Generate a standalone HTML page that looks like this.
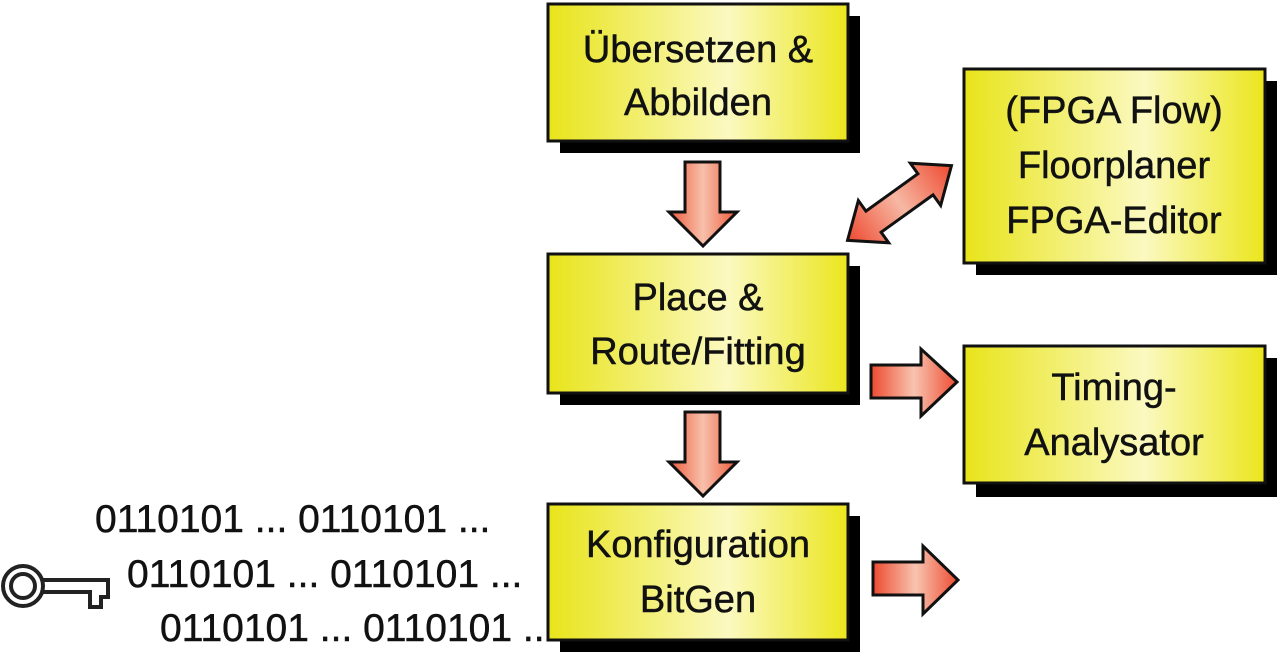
<!DOCTYPE html>
<html><head><meta charset="utf-8"><style>
html,body{margin:0;padding:0;background:#fff;}
svg{display:block;}
text{font-family:"Liberation Sans",Arial,sans-serif;fill:#111;stroke:#111;stroke-width:0.5;}
</style></head><body>
<svg width="1280" height="663" viewBox="0 0 1280 663" xmlns="http://www.w3.org/2000/svg">
<defs>
<linearGradient id="yg" x1="0" x2="1" y1="0" y2="0">
<stop offset="0" stop-color="#e8e41a"/><stop offset="0.6" stop-color="#fbf9c0"/><stop offset="1" stop-color="#ebe61c"/>
</linearGradient>
<linearGradient id="rv" x1="0" x2="1" y1="0" y2="0">
<stop offset="0" stop-color="#ee5a3c"/><stop offset="0.5" stop-color="#f7c0aa"/><stop offset="1" stop-color="#ee5a3c"/>
</linearGradient>
<linearGradient id="rh" x1="0" x2="1" y1="0" y2="0">
<stop offset="0" stop-color="#ee4a30"/><stop offset="0.5" stop-color="#f8c4b0"/><stop offset="1" stop-color="#ee4a30"/>
</linearGradient>
<linearGradient id="rd" x1="0" x2="1" y1="0" y2="0">
<stop offset="0" stop-color="#ee4a30"/><stop offset="0.5" stop-color="#f6b8a4"/><stop offset="1" stop-color="#ee4a30"/>
</linearGradient>
</defs>
<g stroke="#111" stroke-width="3">
<rect x="560" y="16" width="300" height="137" fill="#000" stroke="none"/>
<rect x="560" y="266" width="300" height="139" fill="#000" stroke="none"/>
<rect x="560" y="516" width="300" height="136" fill="#000" stroke="none"/>
<rect x="976" y="81" width="301" height="194" fill="#000" stroke="none"/>
<rect x="976" y="358" width="301" height="139" fill="#000" stroke="none"/>
<rect x="548" y="4" width="300" height="137" fill="url(#yg)"/>
<rect x="548" y="254" width="300" height="139" fill="url(#yg)"/>
<rect x="548" y="504" width="300" height="136" fill="url(#yg)"/>
<rect x="964" y="69" width="301" height="194" fill="url(#yg)"/>
<rect x="964" y="346" width="301" height="137" fill="url(#yg)"/>
<polygon points="685,162 720,162 720,212 737,212 703,246 669,212 685,212" fill="url(#rv)"/>
<polygon points="685,412 720,412 720,462 737,462 703,496 669,462 685,462" fill="url(#rv)"/>
<polygon points="871,365 921,365 921,349 957,382 921,416 921,398 871,398" fill="url(#rh)"/>
<polygon points="873,562 923,562 923,546 958,580 923,614 923,595 873,595" fill="url(#rh)"/>
<g transform="translate(899.5,203) rotate(-35.7)">
<polygon points="-64,0 -32,-26 -32,-13 32,-13 32,-26 64,0 32,26 32,13 -32,13 -32,26" fill="url(#rd)"/>
</g>
</g>
<g font-size="38" text-anchor="middle">
<text x="698" y="62">Übersetzen &amp;</text>
<text x="698" y="115">Abbilden</text>
<text x="698" y="310">Place &amp;</text>
<text x="698" y="364">Route/Fitting</text>
<text x="698" y="557">Konfiguration</text>
<text x="698" y="612">BitGen</text>
<text x="1114" y="123">(FPGA Flow)</text>
<text x="1114" y="178">Floorplaner</text>
<text x="1114" y="233">FPGA-Editor</text>
<text x="1114" y="400">Timing-</text>
<text x="1114" y="455">Analysator</text>
</g>
<g font-size="39">
<text x="95" y="532">0110101 ... 0110101 ...</text>
<text x="127" y="587">0110101 ... 0110101 ...</text>
<text x="160" y="641">0110101 ... 0110101 ..</text>
</g>
<g fill="none" stroke="#222" stroke-width="4">
<circle cx="23" cy="586" r="20"/>
<circle cx="23" cy="586" r="12"/>
<path d="M43,580 H108 V597 H101 V607 H90 V592 H43"/>
</g>
</svg>
</body></html>
